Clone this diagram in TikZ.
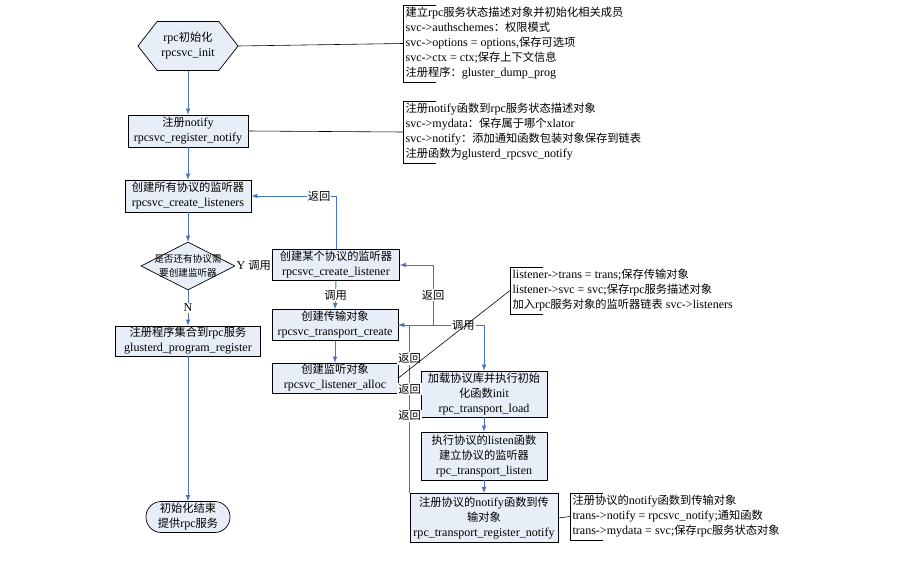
\documentclass[tikz,border=0pt]{standalone}
\usepackage{fontspec}
\setmainfont{Liberation Serif}[Scale=1.07]
\newfontfamily\cjkfont{Noto Sans CJK SC}
% switch to the CJK font for Chinese characters
\XeTeXinterchartokenstate=1
\newXeTeXintercharclass\cjkclass
\newcount\cjkcnt
\cjkcnt="2E80
\loop
  \XeTeXcharclass\cjkcnt=\cjkclass
  \advance\cjkcnt by 1
\ifnum\cjkcnt<"A000 \repeat
\cjkcnt="FF00
\loop
  \XeTeXcharclass\cjkcnt=\cjkclass
  \advance\cjkcnt by 1
\ifnum\cjkcnt<"FFF0 \repeat
\XeTeXinterchartoks 0 \cjkclass = {\cjkfont}
\XeTeXinterchartoks 4095 \cjkclass = {\cjkfont}
\XeTeXinterchartoks \cjkclass 0 = {\rmfamily}
\XeTeXinterchartoks \cjkclass 4095 = {\rmfamily}
\usepackage{xcolor}
\usepackage{tikz}
\usetikzlibrary{arrows}
\usetikzlibrary{shapes.geometric}
\usetikzlibrary{shapes.symbols}
\definecolor{boxfill}{HTML}{E8EEF7}
\definecolor{flowblue}{HTML}{4472C4}
\tikzstyle{proc} = [draw, fill=boxfill, rectangle, align=center, inner sep=1pt, line width=0.6pt]
\tikzstyle{flow} = [draw=flowblue, line width=0.8pt, -latex]
\tikzstyle{tag} = [fill=white, inner sep=1pt, text=black]
\tikzstyle{note} = [anchor=west, align=left, inner sep=2pt]
\tikzstyle{link} = [draw, line width=0.5pt]

\begin{document}
\begin{tikzpicture}[x=0.03cm, y=-0.03cm, font=\fontsize{9.6}{12.8}\selectfont]
\useasboundingbox[fill=white] (0,0) rectangle (900,560);

% main column
\node [proc, signal, signal to=west and east, signal pointer angle=104,
	minimum width=3cm, minimum height=1.47cm] (init) at (188,46)
{rpc初始化\\rpcsvc\_init};
\node [proc, minimum width=3.6cm, minimum height=0.96cm] (regn) at (188,131)
{注册notify\\rpcsvc\_register\_notify};
\node [proc, minimum width=3.78cm, minimum height=0.96cm] (cls) at (188,196)
{创建所有协议的监听器\\rpcsvc\_create\_listeners};
\node [proc, diamond, minimum width=2.82cm, minimum height=1.44cm, inner sep=0pt,
	label={[font=\fontsize{8.2}{11.5}\selectfont, align=center]center:{是否还有协议需\\要创建监听器}}]
(dia) at (188,266) {};
\node [proc, minimum width=4.35cm, minimum height=0.9cm] (pr) at (188,341)
{注册程序集合到rpc服务\\glusterd\_program\_register};
\node [proc, rounded corners=4.6mm, minimum width=2.52cm, minimum height=0.93cm] (done) at (188,517)
{初始化结束\\提供rpc服务};

% one protocol
\node [proc, minimum width=3.81cm, minimum height=0.93cm] (cl) at (336,265)
{创建某个协议的监听器\\rpcsvc\_create\_listener};
\node [proc, minimum width=3.78cm, minimum height=0.93cm] (tc) at (335,325)
{创建传输对象\\rpcsvc\_transport\_create};
\node [proc, minimum width=3.78cm, minimum height=0.9cm] (la) at (335,378)
{创建监听对象\\rpcsvc\_listener\_alloc};
\node [proc, minimum width=3.78cm, minimum height=1.38cm] (tl) at (484,394)
{加载协议库并执行初始\\化函数init\\rpc\_transport\_load};
\node [proc, minimum width=3.78cm, minimum height=1.44cm] (tli) at (484,456)
{执行协议的listen函数\\建立协议的监听器\\rpc\_transport\_listen};
\node [proc, minimum width=4.44cm, minimum height=1.47cm] (rn) at (484,518)
{注册协议的notify函数到传\\输对象\\rpc\_transport\_register\_notify};

% notes
\node [note] (note1) at (403,43.5)
{建立rpc服务状态描述对象并初始化相关成员\\
	svc->authschemes：权限模式\\
	svc->options = options,保存可选项\\
	svc->ctx = ctx;保存上下文信息\\
	注册程序：gluster\_dump\_prog};
\node [note] (note2) at (403,132)
{注册notify函数到rpc服务状态描述对象\\
	svc->mydata：保存属于哪个xlator\\
	svc->notify：添加通知函数包装对象保存到链表\\
	注册函数为glusterd\_rpcsvc\_notify};
\node [note] (note3) at (510,290.5)
{listener->trans = trans;保存传输对象\\
	listener->svc = svc;保存rpc服务描述对象\\
	加入rpc服务对象的监听器链表 svc->listeners};
\node [note] (note4) at (570,516.5)
{注册协议的notify函数到传输对象\\
	trans->notify = rpcsvc\_notify;通知函数\\
	trans->mydata = svc;保存rpc服务状态对象};
\foreach \n in {note1,note2,note3,note4}
	\draw [line width=0.6pt] ([xshift=1cm]\n.north west) -- (\n.north west)
	-- (\n.south west) -- ([xshift=1cm]\n.south west);

% flow
\draw [flow] (init.south) -- (regn.north);
\draw [flow] (regn.south) -- (cls.north);
\draw [flow] (cls.south) -- (dia.north);
\draw [flow] (dia.south) -- node [tag] {N} (pr.north);
\draw [flow] (pr.south) -- (done.north);
\draw [flow] (dia.east) -- node [tag] {Y 调用} (cl.west);
\draw [flow] (cl.north) |- node [tag, pos=0.6] {返回} (cls.east);
\draw [flow] (cl.south) -- node [tag] {调用} (tc.north);
\draw [flow] (tc.south) -- (la.north);
\draw [flow] (tc.east) -| node [tag, pos=0.38] {调用} (tl.north);
\coordinate (ret) at (433,325);
\draw [flow] (ret) |- node [tag, pos=0.25] {返回} (cl.east);
\draw [flow] (rn.north west) |- node [tag, pos=0.23] {返回}
	node [tag, pos=0.31] {返回} node [tag, pos=0.40] {返回} (tc.east);
\draw [flow] (tl.south) -- (tli.north);
\draw [flow] (tli.south) -- (rn.north);

% note links
\draw [link] (init.east) -- (note1.west);
\draw [link] (regn.east) -- (note2.west);
\draw [link] (la.east) -- (note3.west);
\draw [link] (rn.east) -- (note4.west);
\end{tikzpicture}
\end{document}
